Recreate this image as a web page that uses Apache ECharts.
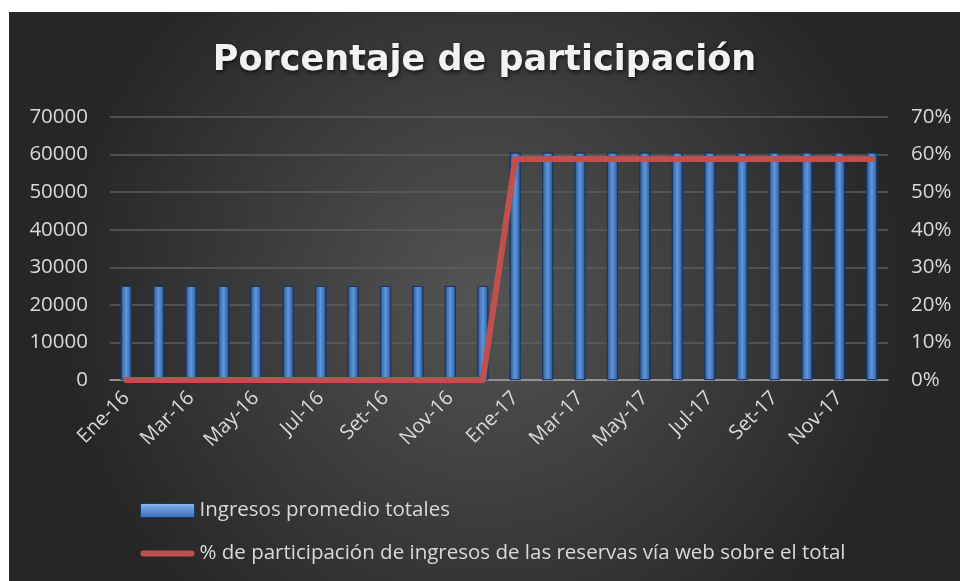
<!DOCTYPE html>
<html>
<head>
<meta charset="utf-8">
<script src="https://cdn.jsdelivr.net/npm/echarts@6/dist/echarts.min.js"></script>
<style>
  html, body { margin: 0; padding: 0; background: #ffffff; }
  #chart { position: absolute; left: 9px; top: 12px; width: 951px; height: 569px; }
</style>
</head>
<body>
<div id="chart"></div>
<script>
var meses = ['Ene-16', 'Feb-16', 'Mar-16', 'Abr-16', 'May-16', 'Jun-16', 'Jul-16', 'Ago-16', 'Set-16', 'Oct-16', 'Nov-16', 'Dic-16',
             'Ene-17', 'Feb-17', 'Mar-17', 'Abr-17', 'May-17', 'Jun-17', 'Jul-17', 'Ago-17', 'Set-17', 'Oct-17', 'Nov-17', 'Dic-17'];
var ingresos = [25000, 25000, 25000, 25000, 25000, 25000, 25000, 25000, 25000, 25000, 25000, 25000,
                60500, 60500, 60500, 60500, 60500, 60500, 60500, 60500, 60500, 60500, 60500, 60500];
var participacion = [0, 0, 0, 0, 0, 0, 0, 0, 0, 0, 0, 0,
                     0.588, 0.588, 0.588, 0.588, 0.588, 0.588, 0.588, 0.588, 0.588, 0.588, 0.588, 0.588];
var nombreBarras = 'Ingresos promedio totales';
var nombreLinea = '% de participación de ingresos de las reservas vía web sobre el total';

var chart = echarts.init(document.getElementById('chart'));
var labelColor = '#d9d9d9';
var fuente = '"Open Sans", sans-serif';

var barColor = new echarts.graphic.LinearGradient(0, 0, 1, 0, [
  { offset: 0, color: '#244c86' },
  { offset: 0.25, color: '#4477bb' },
  { offset: 0.5, color: '#6196da' },
  { offset: 0.75, color: '#4477bb' },
  { offset: 1, color: '#244c86' }
]);
var legendBarColor = new echarts.graphic.LinearGradient(0, 0, 0, 1, [
  { offset: 0, color: '#9cc3f0' },
  { offset: 0.3, color: '#6a9ee0' },
  { offset: 1, color: '#3a6db4' }
]);

var option = {
  backgroundColor: {
    type: 'radial', x: 0.5, y: 0.5, r: 0.75,
    colorStops: [
      { offset: 0, color: '#545454' },
      { offset: 1, color: '#262626' }
    ]
  },
  title: {
    text: 'Porcentaje de participación',
    left: 'center',
    top: 26,
    textStyle: {
      color: '#f2f2f2',
      fontFamily: '"DejaVu Sans", sans-serif',
      fontWeight: 'bold',
      fontSize: 35,
      textShadowColor: 'rgba(0,0,0,0.7)',
      textShadowBlur: 4,
      textShadowOffsetX: 1,
      textShadowOffsetY: 2
    }
  },
  grid: {
    left: 101,
    right: 72,
    top: 105,
    bottom: 201
  },
  legend: {
    orient: 'vertical',
    left: 126,
    top: 483,
    itemGap: 22,
    itemWidth: 54,
    itemHeight: 14,
    textStyle: { color: labelColor, fontFamily: fuente, fontSize: 20.5 },
    data: [
      { name: nombreBarras, icon: 'rect', itemStyle: { color: legendBarColor, borderColor: '#1a3560', borderWidth: 1 } },
      { name: nombreLinea, icon: 'path://M3,0 H53 A3,3 0 0 1 53,6 H3 A3,3 0 0 1 3,0 Z', itemStyle: { color: '#c0504d' } }
    ]
  },
  xAxis: {
    type: 'category',
    data: meses,
    axisLine: { lineStyle: { color: '#a6a6a6', width: 1.5 } },
    axisTick: { interval: 1, length: 6, lineStyle: { color: '#a6a6a6', width: 1.5 } },
    axisLabel: {
      interval: 1,
      rotate: 45,
      margin: 15,
      color: labelColor,
      fontFamily: fuente,
      fontSize: 20
    }
  },
  yAxis: [{
    type: 'value',
    min: 0,
    max: 70000,
    interval: 10000,
    axisLine: { show: false },
    axisTick: { show: false },
    splitLine: { lineStyle: { color: '#5e5e5e', width: 1.5 } },
    axisLabel: {
      color: labelColor, fontFamily: fuente, fontSize: 20.5, margin: 22,
      formatter: function (v) { return String(v); }
    }
  }, {
    type: 'value',
    min: 0,
    max: 0.7,
    interval: 0.1,
    axisLine: { show: false },
    axisTick: { show: false },
    splitLine: { show: false },
    axisLabel: {
      color: labelColor, fontFamily: fuente, fontSize: 20.5, margin: 23,
      formatter: function (v) { return Math.round(v * 100) + '%'; }
    }
  }],
  series: [{
    name: nombreBarras,
    type: 'bar',
    barWidth: 11,
    yAxisIndex: 0,
    itemStyle: { color: barColor, borderColor: '#1a3560', borderWidth: 0.8 },
    data: ingresos
  }, {
    name: nombreLinea,
    type: 'line',
    yAxisIndex: 1,
    symbol: 'none',
    lineStyle: { color: '#c0504d', width: 6, cap: 'round', join: 'round' },
    itemStyle: { color: '#c0504d' },
    data: participacion
  }]
};

chart.setOption(option);
</script>
</body>
</html>
